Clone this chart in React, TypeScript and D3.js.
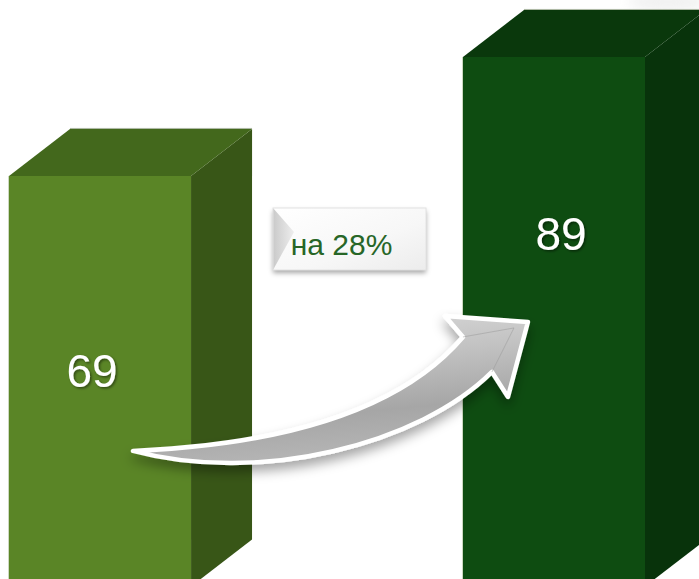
import React from "react";
import * as d3 from "d3";

const categories = ["Было", "Стало"];
const values = [69, 89];
const valueLabels = ["69", "89"];
const changeLabel = "на 28%";
const frontColors = ["#5a8526", "#0e4c11"];
const topColors = ["#43681c", "#0a380c"];
const sideColors = ["#385617", "#08330b"];

const W = 699;
const H = 579;
const DX = 61;
const DY = 47;

export default function App() {
  const x = d3
    .scaleBand<string>()
    .domain(categories)
    .range([9, 645])
    .paddingInner(0.599)
    .paddingOuter(0);
  const y = d3.scaleLinear().domain([0, 100]).range([586.5, -8.5]);
  const bw = x.bandwidth();
  const y0 = y(0);

  const bars = categories.map((c, i) => {
    const x0 = x(c) as number;
    const x1 = x0 + bw;
    const yt = y(values[i]);
    const front = `M${x0},${yt}L${x1},${yt}L${x1},${y0}L${x0},${y0}Z`;
    const top = `M${x0},${yt}L${x0 + DX},${yt - DY}L${x1 + DX},${yt - DY}L${x1},${yt}Z`;
    const side = `M${x1},${yt}L${x1 + DX},${yt - DY}L${x1 + DX},${y0 - DY}L${x1},${y0}Z`;
    return { x0, x1, yt, front, top, side, i };
  });

  const line = d3.line();
  const b0 = bars[0];
  const b1 = bars[1];
  const tail: [number, number] = [b0.x0 + 124, y(69) + 275];
  const tip: [number, number] = [b1.x0 + 65, y(89) + 265];
  const arrowPath =
    `M${tail[0]},${tail[1]}` +
    ` C${tail[0] + 117},${tail[1] - 5} ${tail[0] + 257},${tail[1] - 28} ${tip[0] - 65},${tip[1] + 15}` +
    ` L${tip[0] - 83},${tip[1] - 6}` +
    ` L${tip[0]},${tip[1]}` +
    ` L${tip[0] - 20},${tip[1] + 75}` +
    ` L${tip[0] - 36},${tip[1] + 50}` +
    ` C${tip[0] - 108},${tip[1] + 122} ${tail[0] + 127},${tail[1] + 34} ${tail[0]},${tail[1]}Z`;

  const bevelLine = line([
    [tip[0] - 65, tip[1] + 15],
    [tip[0] - 14, tip[1] + 6],
    [tip[0] - 36, tip[1] + 50],
  ]);

  return (
    <svg
      width={W}
      height={H}
      style={{ position: "absolute", left: 0, top: 0, background: "#fff" }}
      fontFamily="Liberation Sans, Arial, sans-serif"
    >
      <defs>
        <filter id="arrowShadow" x="-20%" y="-30%" width="140%" height="180%">
          <feDropShadow dx="0" dy="7" stdDeviation="6" floodColor="#000" floodOpacity="0.35" />
        </filter>
        <filter id="boxShadow" x="-20%" y="-30%" width="140%" height="180%">
          <feDropShadow dx="0" dy="3" stdDeviation="2.5" floodColor="#000" floodOpacity="0.35" />
        </filter>
        <filter id="txtShadow" x="-20%" y="-20%" width="140%" height="140%">
          <feDropShadow dx="1.5" dy="1.5" stdDeviation="1" floodColor="#000" floodOpacity="0.45" />
        </filter>
        <filter id="blur6">
          <feGaussianBlur stdDeviation="6" />
        </filter>
        <linearGradient id="arrowFill" x1="0" y1="0" x2="0.25" y2="1">
          <stop offset="0" stopColor="#dedede" />
          <stop offset="0.4" stopColor="#c2c2c2" />
          <stop offset="0.75" stopColor="#a6a6a6" />
          <stop offset="1" stopColor="#b4b4b4" />
        </linearGradient>
        <linearGradient id="boxFill" x1="0" y1="0" x2="1" y2="1">
          <stop offset="0" stopColor="#ffffff" />
          <stop offset="0.6" stopColor="#f7f7f7" />
          <stop offset="1" stopColor="#ececec" />
        </linearGradient>
        <linearGradient id="bevelFill" x1="0" y1="0" x2="1" y2="0">
          <stop offset="0" stopColor="#c4c4c4" />
          <stop offset="1" stopColor="#ececec" />
        </linearGradient>
      </defs>

      <ellipse cx={668} cy={2} rx={40} ry={9} fill="#e2e2e2" filter="url(#blur6)" opacity={0.5} />

      {bars.map((b) => (
        <g key={b.i}>
          <path d={b.side} fill={sideColors[b.i]} />
          <path d={b.top} fill={topColors[b.i]} />
          <path d={b.front} fill={frontColors[b.i]} />
          <line
            x1={b.x0 + DX}
            x2={b.x1 + DX}
            y1={b.yt - DY - 0.5}
            y2={b.yt - DY - 0.5}
            stroke="#a9b5a0"
            strokeWidth={1}
          />
          <line x1={b.x0 - 0.5} x2={b.x0 - 0.5} y1={b.yt} y2={y0} stroke="#b9c9a8" strokeWidth={1} opacity={0.7} />
        </g>
      ))}

      <g>
        <rect x={273} y={208} width={153} height={62} fill="url(#boxFill)" filter="url(#boxShadow)" />
        <path d="M273,208L294,232L273,270Z" fill="url(#bevelFill)" opacity={0.9} />
        <rect x={273} y={208} width={153} height={62} fill="none" stroke="#e2e2e2" strokeWidth={1} />
        <text x={341.5} y={255} textAnchor="middle" fontSize={30} fill="#276627">
          {changeLabel}
        </text>
      </g>

      <g filter="url(#arrowShadow)">
        <path d={arrowPath} fill="url(#arrowFill)" stroke="#ffffff" strokeWidth={4.5} strokeLinejoin="round" />
      </g>
      <path d={bevelLine || ""} fill="none" stroke="#9a9a9a" strokeWidth={1} opacity={0.5} />

      {bars.map((b) => (
        <text
          key={"t" + b.i}
          x={b.i === 0 ? b.x0 + 83 : b.x0 + 98}
          y={b.i === 0 ? y(values[0]) + 211 : y(values[1]) + 193}
          textAnchor="middle"
          fontSize={46}
          fill="#ffffff"
          filter="url(#txtShadow)"
        >
          {valueLabels[b.i]}
        </text>
      ))}
    </svg>
  );
}
